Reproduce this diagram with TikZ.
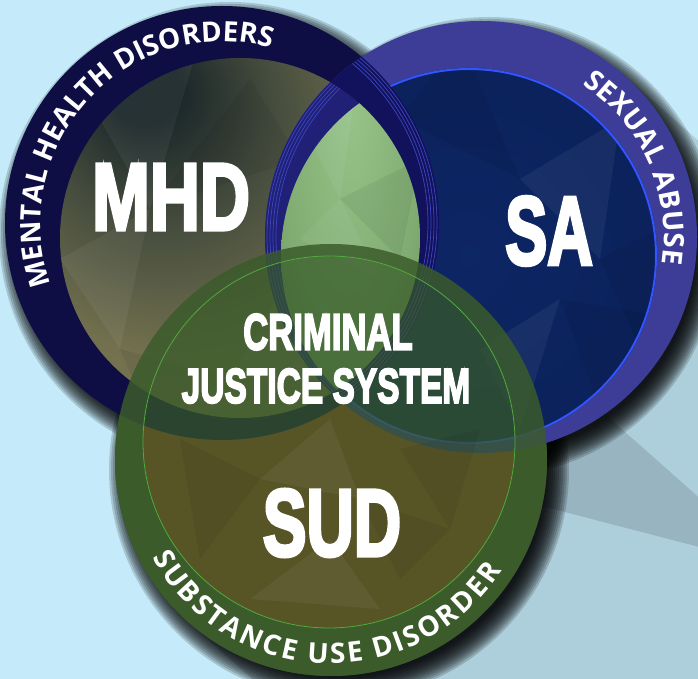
\documentclass[tikz,border=0pt]{standalone}
\usepackage{fontspec}
\newfontfamily\bigfont{Liberation Sans}[BoldFeatures={FakeBold=4}]
\newfontfamily\ringfont{Open Sans}
\usetikzlibrary{decorations.text}
\definecolor{bg}{RGB}{197,235,250}
\definecolor{mhdring}{RGB}{14,14,68}
\definecolor{mhdringdark}{RGB}{18,18,92}
\definecolor{mhdA}{RGB}{28,40,42}
\definecolor{mhdB}{RGB}{70,77,62}
\definecolor{mhdC}{RGB}{114,112,78}
\definecolor{mhdD}{RGB}{132,128,88}
\definecolor{saring}{RGB}{61,61,151}
\definecolor{saringdark}{RGB}{32,32,118}
\definecolor{saA}{RGB}{13,38,100}
\definecolor{saB}{RGB}{10,32,88}
\definecolor{saC}{RGB}{28,72,135}
\definecolor{rimblue}{RGB}{50,85,255}
\definecolor{stripe}{RGB}{60,70,190}
\definecolor{lensA}{RGB}{152,196,138}
\definecolor{lensB}{RGB}{128,172,114}
\definecolor{lensC}{RGB}{90,130,85}
\definecolor{sudring}{RGB}{59,91,43}
\definecolor{sudbase}{RGB}{173,69,33}
\definecolor{sudover}{RGB}{55,90,40}
\definecolor{sudrim}{RGB}{80,170,60}
\pgfdeclareradialshading{mhdshade}{\pgfpoint{-14bp}{22bp}}{color(0bp)=(mhdA); color(5bp)=(mhdA); color(16bp)=(mhdB); color(30bp)=(mhdC); color(58bp)=(mhdD); color(80bp)=(mhdD)}
\pgfdeclareradialshading{sashade}{\pgfpoint{0bp}{0bp}}{color(0bp)=(saA); color(35bp)=(saB); color(46bp)=(saA); color(50bp)=(saC)}
\pgfdeclareradialshading{lensshade}{\pgfpoint{0bp}{18bp}}{color(0bp)=(lensA); color(25bp)=(lensB); color(48bp)=(lensC); color(80bp)=(lensC)}
\newcommand\dropshadow[3]{%
  \foreach \k in {1,...,12}{%
    \pgfmathsetmacro\rr{#3-10+2*\k}%
    \fill[black, opacity=0.16] ({#1+8},{#2-10}) circle[radius=\rr pt];
  }}
\tikzset{
  bigtext/.style={text=white, inner sep=0pt},
  ringtext/.style={decorate, decoration={text along path, text color=white,
      text align={fit to path}, text={|\ringfont\bfseries\fontsize{28}{32}\selectfont|#1}}},
  longshadow/.style={fill=black, opacity=0.12},
  facetdark/.style={fill=black, opacity=0.06},
  facetlight/.style={fill=white, opacity=0.05},
}
\begin{document}
\begin{tikzpicture}[x=1pt,y=1pt]
\useasboundingbox (0,0) rectangle (698,679);
\clip (0,0) rectangle (698,679);
\fill[bg] (0,0) rectangle (698,679);
% long shadows
\path[longshadow] (622,606) -- (1295,9) -- (1300,-24) -- (480,189) -- (450,379) -- cycle;
\path[longshadow] (474,381) -- (1147,-216) -- (861,-540) -- (188,57) -- cycle;
% drop shadows
\dropshadow{222}{456}{217}
\dropshadow{481}{442}{216}
\dropshadow{331}{219}{216}
% SUD opaque base
\fill[sudring] (331,219) circle[radius=216pt];
\fill[sudbase] (329,237) circle[radius=186pt];
% MHD
\fill[mhdring] (222,456) circle[radius=217pt];
\shade[shading=mhdshade] (240,441) circle[radius=180pt];
\begin{scope}
  \clip (240,441) circle[radius=180pt];
  \path[facetlight] (60,420) -- (150,470) -- (120,330) -- cycle;
  \path[facetdark] (150,470) -- (250,600) -- (300,520) -- cycle;
  \path[facetlight] (100,560) -- (200,640) -- (150,470) -- cycle;
  \path[facetdark] (120,330) -- (230,300) -- (150,260) -- cycle;
  \path[facetlight] (230,300) -- (300,420) -- (330,300) -- cycle;
\end{scope}
% SA
\fill[saring] (481,442) circle[radius=216pt];
\shade[shading=sashade] (469,423) circle[radius=188pt];
\begin{scope}
  \clip (469,423) circle[radius=188pt];
  \path[facetdark] (400,560) -- (520,500) -- (460,640) -- cycle;
  \path[facetlight] (520,500) -- (620,560) -- (600,420) -- cycle;
  \path[facetdark] (560,380) -- (680,360) -- (600,270) -- cycle;
  \path[facetlight] (480,330) -- (560,380) -- (520,250) -- cycle;
  \path[facetdark] (600,420) -- (680,460) -- (640,330) -- cycle;
\end{scope}
\draw[rimblue, line width=2pt] (469,423) circle[radius=187pt];
% SA ring over MHD
\begin{scope}
  \clip (222,456) circle[radius=217pt];
  \fill[saringdark, even odd rule] (481,442) circle[radius=216pt] (469,423) circle[radius=188pt];
  \foreach \s in {2,5,8,11}{\draw[stripe, line width=0.7pt] (481,442) circle[radius=216pt-\s pt];}
\end{scope}
% MHD ring over SA
\begin{scope}
  \clip (481,442) circle[radius=216pt];
  \fill[mhdringdark, even odd rule] (222,456) circle[radius=217pt] (240,441) circle[radius=180pt];
  \foreach \s in {2,5,8,11}{\draw[stripe, line width=0.7pt] (222,456) circle[radius=217pt-\s pt];}
\end{scope}
% lens
\begin{scope}
  \clip (240,441) circle[radius=180pt];
  \clip (469,423) circle[radius=188pt];
  \shade[shading=lensshade] (281,240) rectangle (420,640);
  \path[facetlight] (300,560) -- (360,620) -- (340,480) -- cycle;
  \path[facetdark] (340,480) -- (420,520) -- (400,420) -- cycle;
  \path[facetlight] (300,440) -- (340,480) -- (380,400) -- cycle;
\end{scope}
% SUD translucent layer
\fill[sudring, opacity=0.85, even odd rule] (331,219) circle[radius=216pt] (329,237) circle[radius=186pt];
\fill[sudover, opacity=0.72] (329,237) circle[radius=186pt];
\begin{scope}
  \clip (329,237) circle[radius=186pt];
  \path[facetdark] (180,240) -- (260,200) -- (200,120) -- cycle;
  \path[facetlight] (260,200) -- (330,260) -- (360,180) -- cycle;
  \path[facetdark] (400,230) -- (480,250) -- (450,150) -- cycle;
  \path[facetlight] (250,80) -- (330,140) -- (380,70) -- cycle;
  \path[facetdark] (360,180) -- (450,150) -- (400,100) -- cycle;
\end{scope}
\draw[sudrim, line width=0.8pt] (329,237) circle[radius=186pt];
% ring texts
\path[ringtext={MENTAL HEALTH DISORDERS}] (222,456) ++(199.9:181.5pt) arc[start angle=199.9, end angle=74.2, radius=181.5pt];
\path[ringtext={SEXUAL ABUSE}] (481,442) ++(56.5:183pt) arc[start angle=56.5, end angle=-8.5, radius=183pt];
\path[ringtext={SUBSTANCE USE DISORDER}] (331,219) ++(208.7:203.5pt) arc[start angle=208.7, end angle=327, radius=203.5pt];
% big labels
\node[bigtext, font=\bigfont\bfseries\fontsize{95}{95}\selectfont] (mhd) at (171,482) {\scalebox{0.73}[1]{MHD}};
\node[bigtext, font=\bigfont\bfseries\fontsize{97}{97}\selectfont] (sa) at (549,448) {\scalebox{0.65}[1]{SA}};
\node[bigtext, font=\bigfont\bfseries\fontsize{51}{51}\selectfont] (crim) at (328,347) {\scalebox{0.68}[1]{CRIMINAL}};
\node[bigtext, font=\bigfont\bfseries\fontsize{49}{49}\selectfont] (jus) at (326,293) {\scalebox{0.684}[1]{JUSTICE SYSTEM}};
\node[bigtext, font=\bigfont\bfseries\fontsize{95}{95}\selectfont] (sud) at (332,156) {\scalebox{0.69}[1]{SUD}};
\end{tikzpicture}
\end{document}
